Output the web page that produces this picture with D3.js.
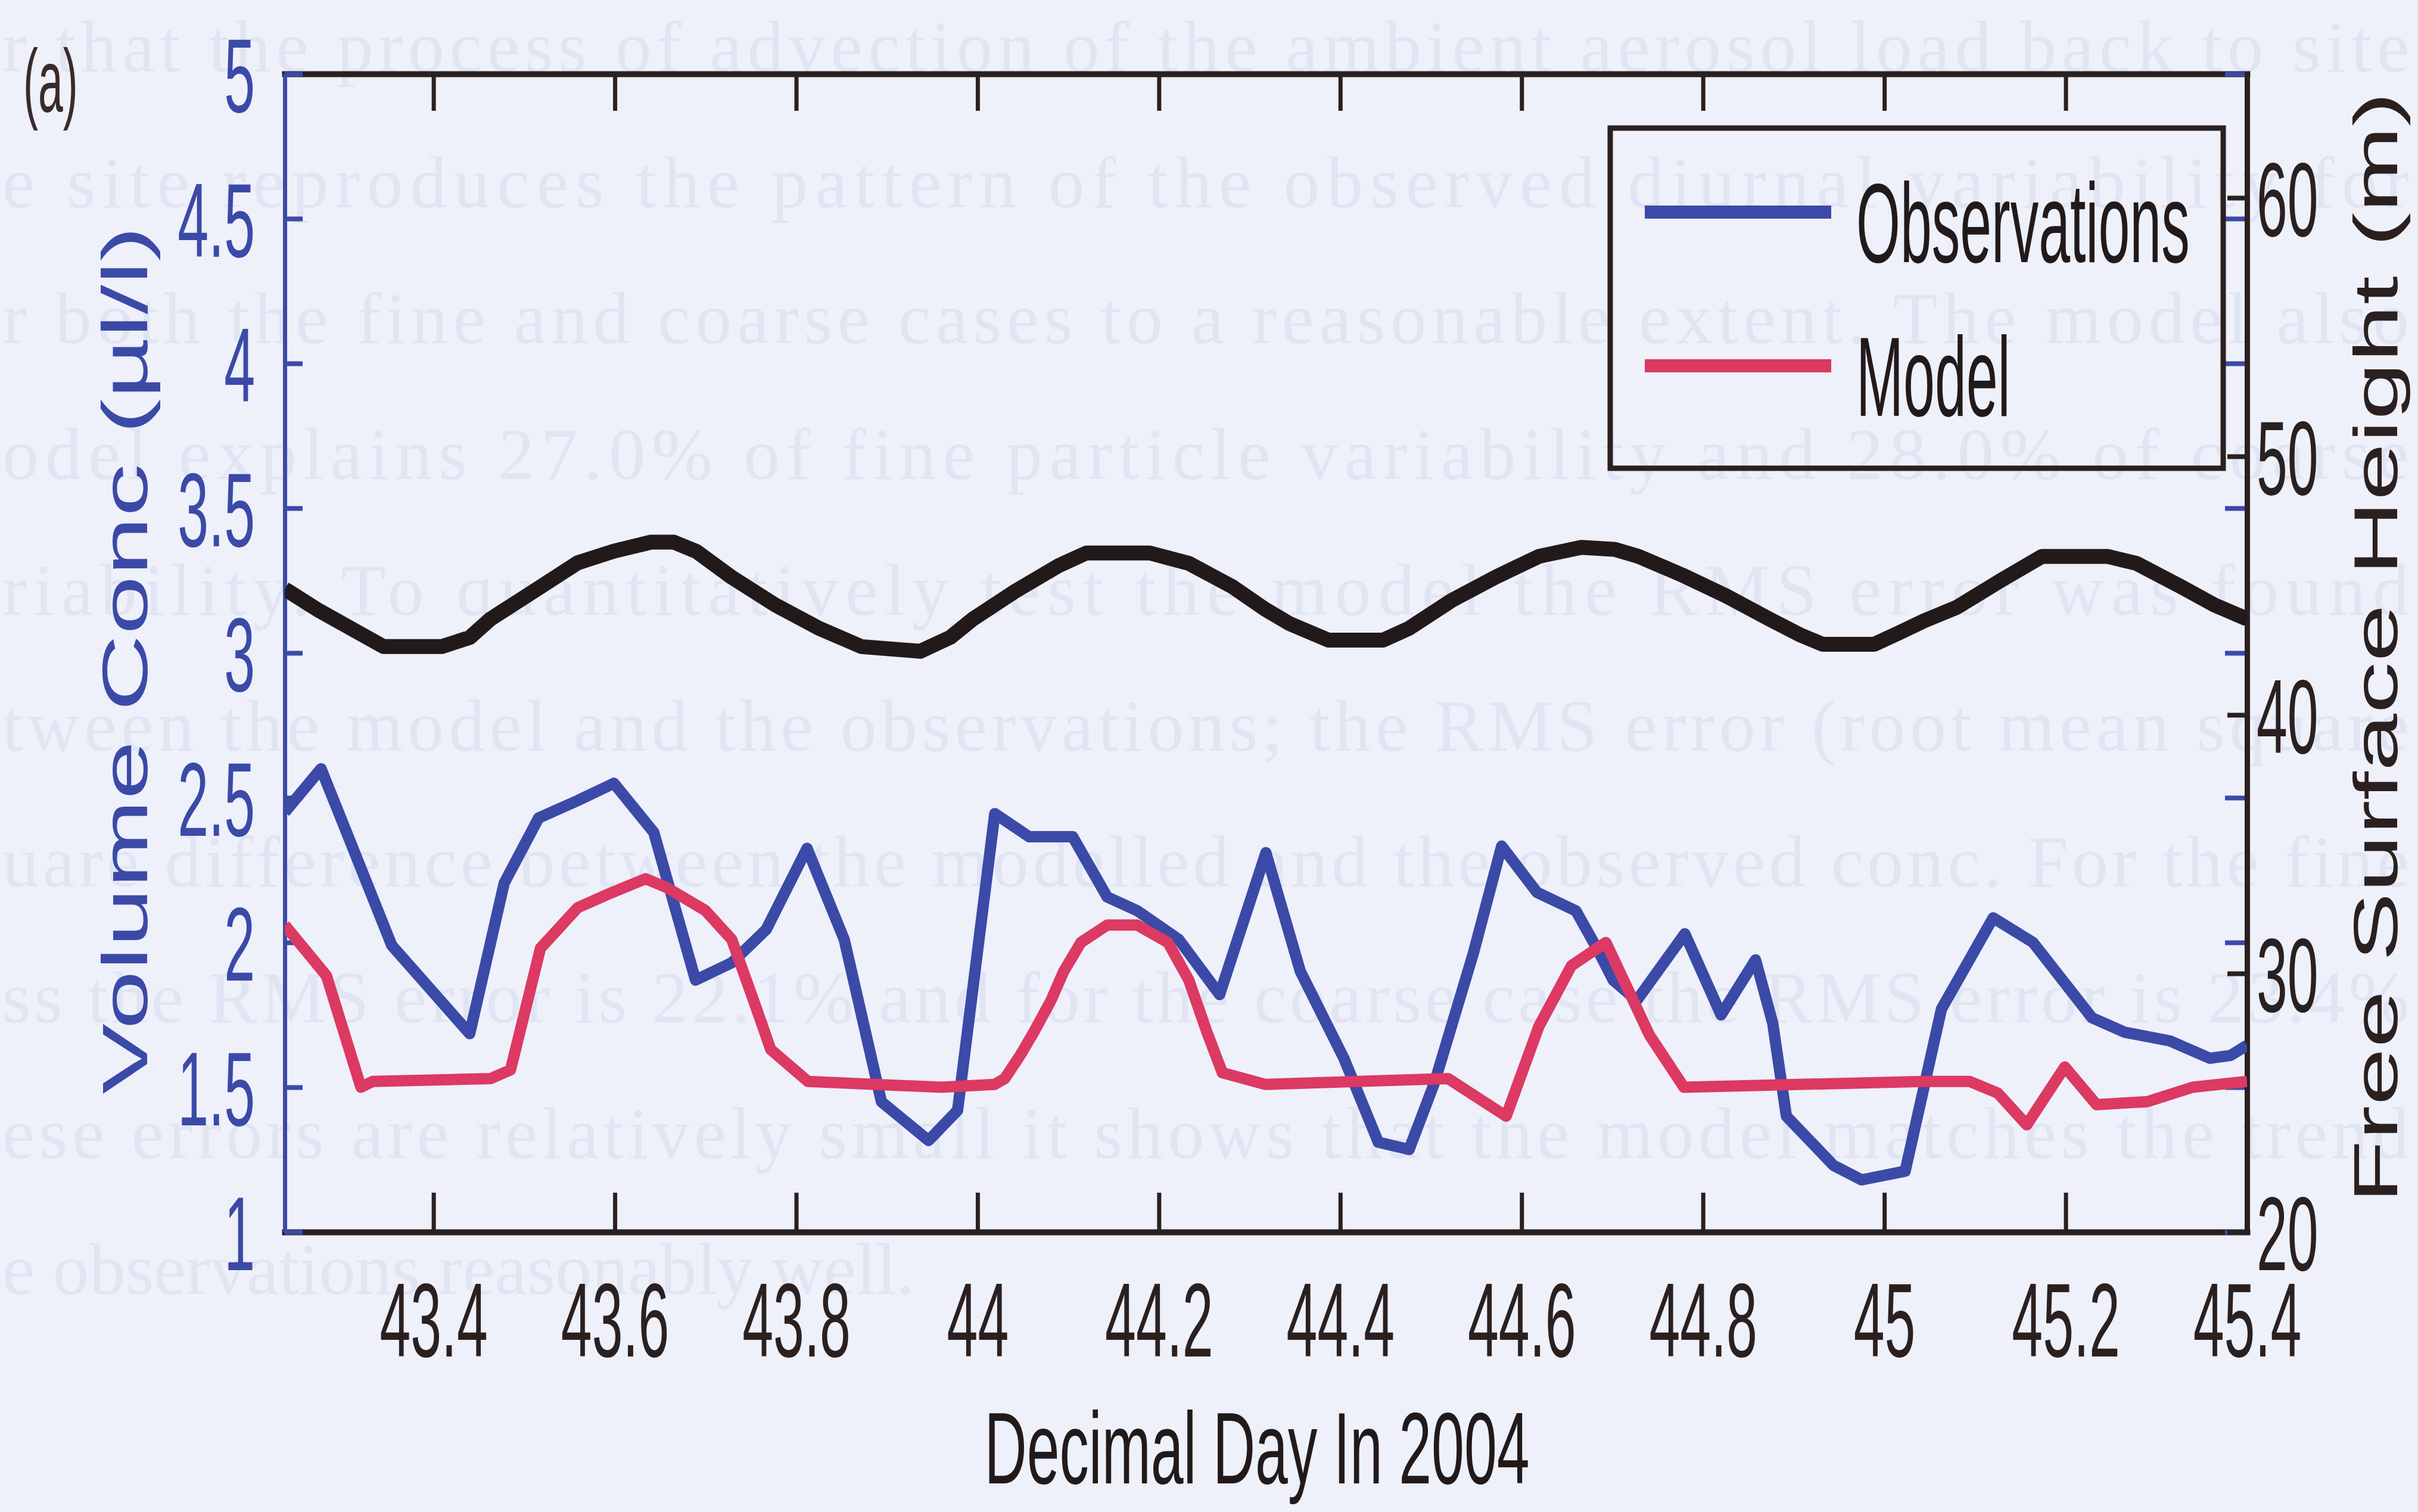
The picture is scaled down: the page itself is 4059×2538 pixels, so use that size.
<!DOCTYPE html>
<html>
<head>
<meta charset="utf-8">
<script src="https://cdn.jsdelivr.net/npm/d3@7"></script>
<style>
  html, body { margin: 0; padding: 0; background: #eef0fa; }
  svg { display: block; }
</style>
</head>
<body>
<svg id="chart" width="4059" height="2538"></svg>
<script>
// ---- data -------------------------------------------------------------
const xTicks = [43.4, 43.6, 43.8, 44, 44.2, 44.4, 44.6, 44.8, 45, 45.2, 45.4];
const concTicks = [1, 1.5, 2, 2.5, 3, 3.5, 4, 4.5, 5];
const heightTicks = [20, 30, 40, 50, 60];
const legendLabels = ["Observations", "Model"];

// observed volume concentration (µl/l)
const obsDay = [43.236,43.276,43.294,43.354,43.440,43.478,43.516,43.559,43.599,43.643,
  43.689,43.729,43.767,43.812,43.853,43.894,43.946,43.978,44.019,44.057,
  44.105,44.143,44.176,44.222,44.267,44.318,44.356,44.404,44.442,44.476,
  44.504,44.547,44.578,44.617,44.660,44.683,44.701,44.727,44.780,44.820,
  44.858,44.877,44.892,44.944,44.975,45.023,45.063,45.120,45.164,45.229,
  45.265,45.315,45.359,45.382,45.400];
const obsConc = [2.45,2.60,2.46,1.99,1.685,2.205,2.43,2.49,2.55,2.38,
  1.87,1.93,2.045,2.325,2.01,1.45,1.316,1.42,2.445,2.365,
  2.365,2.157,2.11,2.01,1.82,2.31,1.90,1.60,1.31,1.285,
  1.516,1.965,2.333,2.173,2.109,1.98,1.87,1.80,2.03,1.75,
  1.94,1.72,1.40,1.23,1.18,1.21,1.77,2.085,2.00,1.74,
  1.69,1.66,1.60,1.61,1.645];

// modelled volume concentration (µl/l)
const modelDay = [43.236,43.282,43.320,43.333,43.463,43.485,43.518,43.559,43.595,43.634,
  43.657,43.700,43.729,43.753,43.772,43.813,43.960,44.019,44.030,44.047,
  44.062,44.081,44.095,44.114,44.143,44.176,44.210,44.233,44.253,44.270,
  44.317,44.519,44.583,44.619,44.655,44.693,44.741,44.779,45.044,45.094,
  45.125,45.157,45.199,45.234,45.290,45.340,45.400];
const modelConc = [2.06,1.885,1.50,1.52,1.53,1.56,1.98,2.12,2.17,2.22,
  2.19,2.11,2.01,1.80,1.63,1.52,1.50,1.51,1.53,1.61,
  1.69,1.80,1.90,2.00,2.06,2.06,2.00,1.87,1.69,1.55,
  1.51,1.53,1.40,1.71,1.92,2.00,1.68,1.50,1.52,1.52,
  1.48,1.37,1.57,1.44,1.45,1.50,1.52];

// free surface height (m), right axis
const tideDay = [43.236,43.272,43.327,43.345,43.409,43.440,43.463,43.511,43.559,43.599,
  43.640,43.665,43.690,43.729,43.777,43.825,43.872,43.937,43.970,43.995,
  44.042,44.090,44.120,44.190,44.233,44.281,44.317,44.344,44.387,44.447,
  44.476,44.523,44.571,44.619,44.666,44.703,44.729,44.777,44.825,44.873,
  44.908,44.932,44.989,45.016,45.044,45.080,45.130,45.174,45.246,45.278,
  45.327,45.364,45.400];
const tideHeight = [44.87,44.07,42.99,42.64,42.64,42.99,43.71,44.79,45.88,46.33,
  46.68,46.68,46.32,45.32,44.25,43.35,42.64,42.46,43.00,43.71,
  44.79,45.78,46.26,46.26,45.86,44.96,44.09,43.53,42.89,42.89,
  43.35,44.43,45.32,46.13,46.48,46.40,46.13,45.41,44.61,43.71,
  43.08,42.73,42.73,43.17,43.64,44.16,45.23,46.13,46.13,45.86,
  44.96,44.25,43.71];

// faint lines of page text lying behind the figure
const pageLines = [
  "r that the process of advection of the ambient aerosol load back to site",
  "e site reproduces the pattern of the observed diurnal variability for",
  "r both the fine and coarse cases to a reasonable extent.  The model also",
  "odel explains 27.0% of fine particle variability and 28.0% of coarse",
  "riability.  To quantitatively test the model the RMS error was found",
  "tween the model and the observations; the RMS error (root mean square",
  "uare difference between the modelled and the observed conc.  For the fine",
  "ss the RMS error is 22.1% and for the coarse case the RMS error is 23.4%",
  "ese errors are relatively small it shows that the model matches the trend",
  "e observations reasonably well."
];

// ---- layout & style ---------------------------------------------------
const W = 4059, H = 2538;
const plotLeft = 478, plotRight = 3772, plotTop = 124, plotBottom = 2068;
const BLUE = "#3b4aa7", RED = "#dc3963", INK = "#221a1a", AXIS = "#2b2020";
const FONT = "'Liberation Sans', Arial, sans-serif";
const fmt = d3.format("~g");

const svg = d3.select("#chart");
svg.append("rect").attr("width", W).attr("height", H).attr("fill", "#eef0fa");

// page text
svg.append("g")
  .attr("font-family", "'Liberation Serif', 'Times New Roman', serif")
  .attr("font-size", 122)
  .attr("fill", "#e1e4f2")
  .selectAll("text")
  .data(pageLines)
  .join("text")
  .attr("x", 4)
  .attr("y", (d, i) => 120 + 228 * i)
  .attr("textLength", (d, i) => i < pageLines.length - 1 ? 4040 : null)
  .attr("lengthAdjust", "spacing")
  .text(d => d);

// ---- scales -----------------------------------------------------------
const x = d3.scaleLinear().domain([43.236, 45.4]).range([plotLeft, plotRight]);
const yConc = d3.scaleLinear().domain([1, 5]).range([plotBottom, plotTop]);
const yHeight = d3.scaleLinear().domain([20, 64.79]).range([plotBottom, plotTop]);

// ---- axes -------------------------------------------------------------
function squeezeText(sel, sx, xpos, ypos, dy, anchor, fill, size) {
  sel.attr("transform", `scale(${sx},1)`)
    .attr("x", xpos / sx)
    .attr("y", ypos)
    .attr("dy", dy)
    .attr("text-anchor", anchor)
    .attr("fill", fill)
    .attr("font-size", size)
    .attr("font-family", FONT);
}

// bottom
const gBottom = svg.append("g")
  .attr("transform", `translate(0,${plotBottom})`)
  .call(d3.axisBottom(x).tickValues(xTicks).tickFormat(fmt).tickSizeInner(-66).tickSizeOuter(0));
gBottom.select(".domain").attr("stroke", AXIS).attr("stroke-width", 10).attr("stroke-linecap", "square");
gBottom.selectAll(".tick line").attr("stroke", AXIS).attr("stroke-width", 7);
squeezeText(gBottom.selectAll(".tick text"), 0.53, 0, 209, 0, "middle", AXIS, 176);

// top (ticks only)
const gTop = svg.append("g")
  .attr("transform", `translate(0,${plotTop})`)
  .call(d3.axisTop(x).tickValues(xTicks).tickFormat("").tickSizeInner(-62).tickSizeOuter(0));
gTop.select(".domain").attr("stroke", AXIS).attr("stroke-width", 10).attr("stroke-linecap", "square");
gTop.selectAll(".tick line").attr("stroke", AXIS).attr("stroke-width", 7);

// left (concentration)
const gLeft = svg.append("g")
  .attr("transform", `translate(${plotLeft},0)`)
  .call(d3.axisLeft(yConc).tickValues(concTicks).tickFormat(fmt).tickSizeInner(-30).tickSizeOuter(0));
gLeft.select(".domain").attr("stroke", BLUE).attr("stroke-width", 7);
gLeft.selectAll(".tick line").attr("stroke", BLUE).attr("stroke-width", 8);
squeezeText(gLeft.selectAll(".tick text"), 0.53, -50, 0, "0.36em", "end", BLUE, 176);

// concentration ticks mirrored on the right side
const gLeftMirror = svg.append("g")
  .attr("transform", `translate(${plotRight},0)`)
  .call(d3.axisRight(yConc).tickValues(concTicks).tickFormat("").tickSizeInner(-37).tickSizeOuter(0));
gLeftMirror.select(".domain").remove();
gLeftMirror.selectAll(".tick line").attr("stroke", BLUE).attr("stroke-width", 8);

// right (free surface height)
const gRight = svg.append("g")
  .attr("transform", `translate(${plotRight},0)`)
  .call(d3.axisRight(yHeight).tickValues(heightTicks).tickFormat(fmt).tickSizeInner(-33).tickSizeOuter(0));
gRight.select(".domain").attr("stroke", AXIS).attr("stroke-width", 9).attr("stroke-linecap", "square");
gRight.selectAll(".tick line").attr("stroke", AXIS).attr("stroke-width", 8);
squeezeText(gRight.selectAll(".tick text"), 0.53, 16, 0, "0.36em", "start", AXIS, 176);

// ---- series -----------------------------------------------------------
svg.append("clipPath").attr("id", "plotClip")
  .append("rect")
  .attr("x", plotLeft).attr("y", plotTop)
  .attr("width", plotRight - plotLeft).attr("height", plotBottom - plotTop);

const plot = svg.append("g").attr("clip-path", "url(#plotClip)");

const concLine = d3.line().x(d => x(d[0])).y(d => yConc(d[1]));
const heightLine = d3.line().x(d => x(d[0])).y(d => yHeight(d[1]));

plot.append("path")
  .datum(d3.zip(obsDay, obsConc))
  .attr("d", concLine)
  .attr("fill", "none").attr("stroke", BLUE).attr("stroke-width", 19)
  .attr("stroke-linejoin", "round");

plot.append("path")
  .datum(d3.zip(modelDay, modelConc))
  .attr("d", concLine)
  .attr("fill", "none").attr("stroke", RED).attr("stroke-width", 19)
  .attr("stroke-linejoin", "round");

plot.append("path")
  .datum(d3.zip(tideDay, tideHeight))
  .attr("d", heightLine)
  .attr("fill", "none").attr("stroke", INK).attr("stroke-width", 25)
  .attr("stroke-linejoin", "round");

// ---- legend -----------------------------------------------------------
const legend = svg.append("g");
legend.append("rect")
  .attr("x", 2703).attr("y", 215).attr("width", 1029).attr("height", 571)
  .attr("fill", "none").attr("stroke", AXIS).attr("stroke-width", 9);
const legendColors = [BLUE, RED];
const legendRows = legend.selectAll("g.row")
  .data(legendLabels)
  .join("g")
  .attr("class", "row")
  .attr("transform", (d, i) => `translate(0,${[356, 614][i]})`);
legendRows.append("line")
  .attr("x1", 2761).attr("x2", 3074).attr("y1", 0).attr("y2", 0)
  .attr("stroke", (d, i) => legendColors[i]).attr("stroke-width", 22);
legendRows.append("text")
  .attr("transform", "translate(3116,84) scale(0.5,1)")
  .attr("font-family", FONT).attr("font-size", 190).attr("fill", INK)
  .text(d => d);

// ---- labels -----------------------------------------------------------
svg.append("text")
  .attr("transform", "translate(2110,2490) scale(0.58,1)")
  .attr("text-anchor", "middle")
  .attr("font-family", FONT).attr("font-size", 170).attr("fill", INK)
  .text("Decimal Day In 2004");

svg.append("text")
  .attr("transform", "translate(210,1108) scale(0.6,1) rotate(-90)")
  .attr("text-anchor", "middle").attr("dy", "0.35em")
  .attr("font-family", FONT).attr("font-size", 178).attr("fill", BLUE)
  .text("Volume Conc (µl/l)");

svg.append("text")
  .attr("transform", "translate(3987,1087) scale(0.6,1) rotate(-90)")
  .attr("text-anchor", "middle").attr("dy", "0.35em")
  .attr("font-family", FONT).attr("font-size", 174).attr("fill", AXIS)
  .text("Free Surface Height (m)");

svg.append("text")
  .attr("transform", "translate(39,188) scale(0.5,1)")
  .attr("font-family", FONT).attr("font-size", 150).attr("fill", "#3a2b2b")
  .text("(a)");
</script>
</body>
</html>
